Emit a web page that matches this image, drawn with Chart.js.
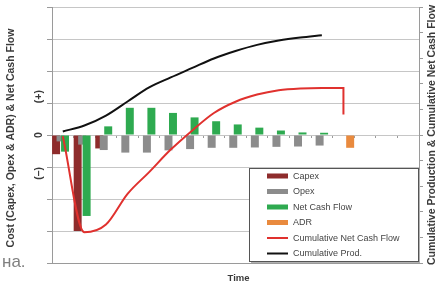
<!DOCTYPE html>
<html><head><meta charset="utf-8">
<script src="https://cdn.jsdelivr.net/npm/chart.js@4"></script>
<style>html,body{margin:0;padding:0;background:#fff;}canvas{display:block}</style>
</head><body>
<canvas id="c" width="445" height="285"></canvas>
<script>
// ---- data ----
const periods = ['1','2','3','4','5','6','7','8','9','10','11','12','13','14','15','16','17'];
const capex = [-0.6, -3.0, -0.42, null, null, null, null, null, null, null, null, null, null, null, null, null, null];
const opex = [-0.2, -0.3, -0.47, -0.55, -0.55, -0.48, -0.44, -0.4, -0.4, -0.39, -0.37, -0.36, -0.33, null, null, null, null];
const netCashFlow = [-0.52, -2.53, 0.27, 0.85, 0.85, 0.69, 0.55, 0.43, 0.33, 0.23, 0.14, 0.08, 0.07, null, null, null, null];
const adr = [null, null, null, null, null, null, null, null, null, null, null, null, null, -0.4, null, null, null];
const cumNetCashFlowPeriod = ['1','2','3','4','5','6','7','8','9','10','11','12','13','14','14'];
const cumNetCashFlow = [-0.05, -3.8, -3.5, -2.3, -1.45, -0.57, 0.18, 0.86, 1.3, 1.58, 1.75, 1.82, 1.84, 1.84, 0.8];
const cumProdPeriod = ['1','2','3','4','5','6','7','8','9','10','11','12','13'];
const cumProd = [0.14, 0.37, 0.76, 1.31, 1.86, 2.25, 2.62, 2.99, 3.28, 3.52, 3.69, 3.81, 3.9];
const leftTickLabels = ['(\u2013)', '0', '(+)'];
const leftTickValues = [-1.2, 0, 1.2];
const leftTitle = 'Cost (Capex, Opex & ADR) & Net Cash Flow';
const rightTitle = 'Cumulative Production & Cumulative Net Cash Flow';
const xTitle = 'Time';
const strayText = '\u043d\u0430.';

const toPts = (xs, ys) => xs.map((x, i) => ({x: x, y: ys[i]}));

const FONT = '"Liberation Sans", Arial, sans-serif';
const AXIS = '#9a9a9a';

// draw bars in series order (later series on top), lines last
const orderPlugin = {
  id: 'drawOrder',
  beforeDatasetsDraw(chart) {
    const metas = chart.getSortedVisibleDatasetMetas().slice().sort((a, b) => a.index - b.index);
    for (const m of metas) m.controller.draw();
    return false;
  }
};

const textPlugin = {
  id: 'texts',
  afterDraw(chart) {
    const ctx = chart.ctx, ca = chart.chartArea, ys = chart.scales.y;
    ctx.save();
    ctx.fillStyle = '#3a3a3a';
    ctx.textAlign = 'center';
    ctx.textBaseline = 'middle';
    ctx.font = 'bold 10.5px ' + FONT;
    ctx.save(); ctx.translate(11, 138); ctx.rotate(-Math.PI / 2); ctx.fillText(leftTitle, 0, 0); ctx.restore();
    ctx.save(); ctx.translate(432, 135); ctx.rotate(-Math.PI / 2); ctx.fillText(rightTitle, 0, 0); ctx.restore();
    leftTickLabels.forEach((t, i) => {
      ctx.save(); ctx.translate(39, ys.getPixelForValue(leftTickValues[i])); ctx.rotate(-Math.PI / 2); ctx.fillText(t, 0, 0); ctx.restore();
    });
    ctx.font = 'bold 9.5px ' + FONT;
    ctx.fillText(xTitle, (ca.left + ca.right) / 2 + 3, 278);
    ctx.font = '17px ' + FONT;
    ctx.fillStyle = '#808080';
    ctx.textAlign = 'left';
    ctx.textBaseline = 'alphabetic';
    ctx.fillText(strayText, 2, 267);
    // legend
    const bx = 249.5, by = 168.5, bw = 169, bh = 93;
    ctx.fillStyle = '#b0b0b0';
    ctx.fillRect(bx + 1.5, by + 1.5, bw, bh);
    ctx.fillStyle = '#ffffff';
    ctx.fillRect(bx, by, bw, bh);
    ctx.strokeStyle = '#555555';
    ctx.lineWidth = 1;
    ctx.strokeRect(bx, by, bw, bh);
    ctx.font = '9px ' + FONT;
    ctx.textBaseline = 'middle';
    chart.data.datasets.forEach((ds, i) => {
      const cy = 176 + i * 15.5;
      if (ds.type === 'line') {
        ctx.strokeStyle = ds.borderColor; ctx.lineWidth = 2;
        ctx.beginPath(); ctx.moveTo(267, cy); ctx.lineTo(288, cy); ctx.stroke();
      } else {
        ctx.fillStyle = ds.backgroundColor;
        ctx.fillRect(267, cy - 2.5, 21, 5);
      }
      ctx.fillStyle = '#444444';
      ctx.fillText(ds.label, 293, cy + 0.5);
    });
    ctx.restore();
  }
};

const barCommon = {type: 'bar', xAxisID: 'x', yAxisID: 'y', categoryPercentage: 0.83, barPercentage: 1.78, borderWidth: 0};

new Chart(document.getElementById('c'), {
  type: 'bar',
  data: {
    labels: periods,
    datasets: [
      Object.assign({label: 'Capex', data: capex, backgroundColor: '#8e2c2c'}, barCommon),
      Object.assign({label: 'Opex', data: opex, backgroundColor: '#8c8c8c'}, barCommon),
      Object.assign({label: 'Net Cash Flow', data: netCashFlow, backgroundColor: '#2eaa50'}, barCommon),
      Object.assign({label: 'ADR', data: adr, backgroundColor: '#e98a3e'}, barCommon),
      {type: 'line', label: 'Cumulative Net Cash Flow', data: toPts(cumNetCashFlowPeriod, cumNetCashFlow), xAxisID: 'x', yAxisID: 'y2',
       borderColor: '#e0312e', backgroundColor: '#e0312e', borderWidth: 2, pointRadius: 0, cubicInterpolationMode: 'monotone', fill: false},
      {type: 'line', label: 'Cumulative Prod.', data: toPts(cumProdPeriod, cumProd), xAxisID: 'x', yAxisID: 'y2',
       borderColor: '#111111', backgroundColor: '#111111', borderWidth: 2, pointRadius: 0, cubicInterpolationMode: 'monotone', fill: false}
    ]
  },
  options: {
    responsive: false,
    animation: false,
    devicePixelRatio: 1,
    layout: {padding: {left: 47, right: 22, top: 7, bottom: 22}},
    plugins: {legend: {display: false}, title: {display: false}, tooltip: {enabled: false}},
    scales: {
      x: {type: 'category', position: 'bottom', offset: true,
          grid: {display: true, drawOnChartArea: false, drawTicks: false},
          border: {display: true, color: AXIS}, ticks: {display: false}},
      xt: {type: 'category', axis: 'x', position: {y: 0}, offset: true,
           grid: {display: true, offset: true, drawOnChartArea: false, drawTicks: true, tickLength: 3, color: AXIS},
           border: {display: false}, ticks: {display: false}},
      y: {position: 'left', min: -4, max: 4,
          ticks: {stepSize: 1, display: false},
          grid: {color: '#c6c6c6', tickColor: AXIS, tickLength: 5, drawTicks: true},
          border: {display: true, color: AXIS}},
      y2: {position: 'right', min: -5, max: 5,
           ticks: {stepSize: 1, display: false},
           grid: {drawOnChartArea: false, tickLength: 4, color: AXIS},
           border: {display: true, color: AXIS}}
    }
  },
  plugins: [orderPlugin, textPlugin]
});
</script>
</body></html>
